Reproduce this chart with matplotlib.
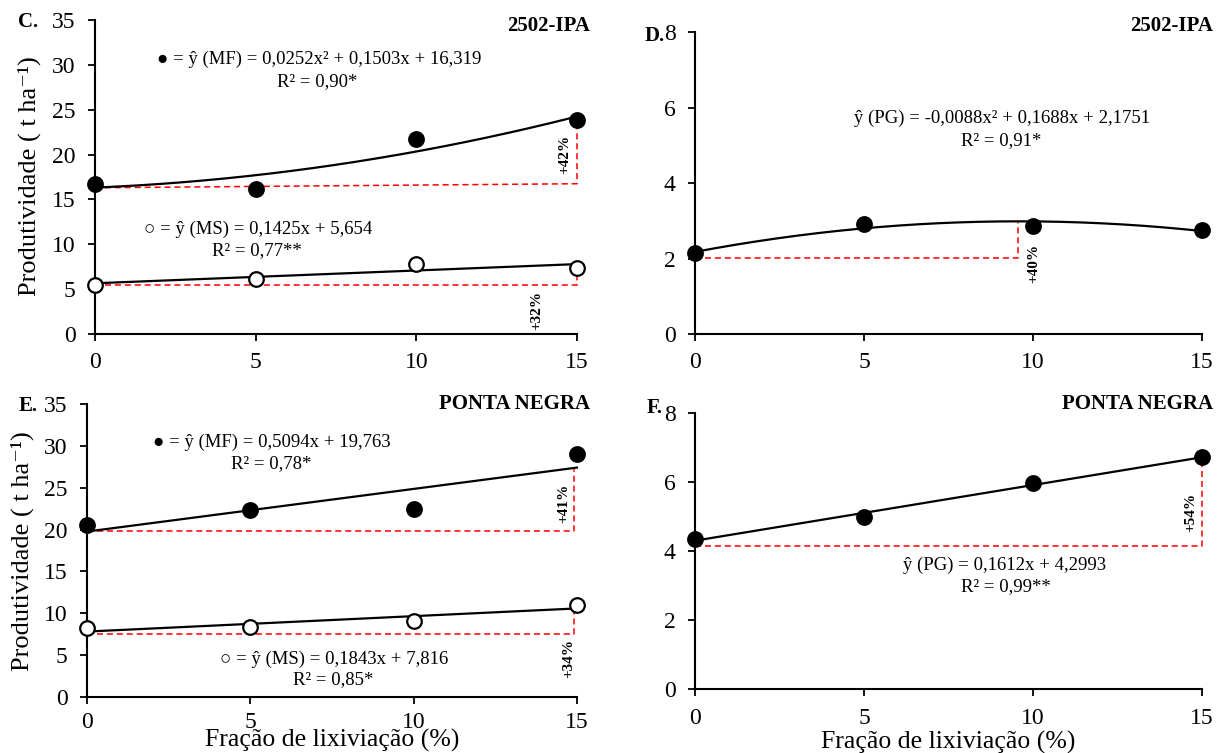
import numpy as np
import matplotlib
matplotlib.use("Agg")
import matplotlib.pyplot as plt

plt.rcParams["font.family"] = ["Liberation Serif", "DejaVu Serif"]

# leaching fraction (%)
fracao = [0, 5, 10, 15]

# C. 2502-IPA, fresh (MF) and dry (MS) mass
c_mf = [16.7, 16.2, 21.7, 23.8]
c_ms = [5.5, 6.1, 7.8, 7.35]
c_mf_coef = [0.0252, 0.1503, 16.319]
c_ms_coef = [0.1425, 5.654]

# D. 2502-IPA, PG
d_pg = [2.14, 2.92, 2.85, 2.76]
d_pg_coef = [-0.0088, 0.1688, 2.1751]

# E. Ponta Negra
e_mf = [20.5, 22.3, 22.4, 29.0]
e_ms = [8.2, 8.4, 9.1, 11.0]
e_mf_coef = [0.5094, 19.763]
e_ms_coef = [0.1843, 7.816]

# F. Ponta Negra, PG
f_pg = [4.35, 4.99, 5.98, 6.73]
f_pg_coef = [0.1612, 4.2993]

# red reference lines: (x end, base at 0, base at x end, top)
c_mf_ref = (15, 16.3, 16.75, 24.2)
c_ms_ref = (15, 5.5, 5.5, 7.4)
d_pg_ref = (9.55, 2.02, 2.02, 2.98)
e_mf_ref = (14.92, 19.8, 19.8, 27.3)
e_ms_ref = (14.92, 7.54, 7.54, 10.6)
f_pg_ref = (15, 4.15, 4.15, 6.7)

W, H = 1219, 753
fig = plt.figure(figsize=(W / 100, H / 100), dpi=100)


def px_rect(left, right, bottom, top):
    return [left / W, 1 - bottom / H, (right - left) / W, (bottom - top) / H]


def make_axes(rect, ymax, ystep, xpad):
    ax = fig.add_axes(rect)
    for s in ("top", "right"):
        ax.spines[s].set_visible(False)
    for s in ("left", "bottom"):
        ax.spines[s].set_linewidth(1.5)
    ax.set_xlim(0, 15)
    ax.set_ylim(0, ymax)
    ax.set_xticks(fracao)
    ax.set_yticks(np.arange(0, ymax + 0.1, ystep))
    ax.tick_params(direction="out", length=5, width=1.3, labelsize=17)
    ax.tick_params(axis="x", pad=xpad)
    ax.tick_params(axis="y", pad=9)
    return ax


def trend(ax, coef):
    xs = np.linspace(0, 15, 200)
    ax.plot(xs, np.polyval(coef, xs), color="black", lw=1.6, zorder=3, clip_on=False)


def points(ax, vals, filled=True):
    ax.plot(fracao, vals, "o", ms=10.5, mfc="black" if filled else "white",
            mec="black", mew=1.6, zorder=4, clip_on=False)


def ref(ax, r, label, lx, ly):
    xe, b0, b1, top = r
    ax.plot([0, xe, xe], [b0, b1, top], color="red", lw=1.1, ls=(0, (4, 2.5)),
            zorder=2, clip_on=False)
    ax.text(lx, ly, label, rotation=90, ha="center", va="center",
            fontsize=11, fontweight="bold")


def eq(ax, x, y, s, size=13.5):
    ax.text(x, y, s, ha="center", va="center", fontsize=size)


def ylabel(ax, xf, yf):
    ax.text(xf, yf, "Produtividade ( t ha\u207b\u00b9)", rotation=90,
            transform=ax.transAxes, ha="center", va="center", fontsize=19)


def xlabel(ax, yf):
    ax.text(0.5, yf, "Fração de lixiviação (%)", transform=ax.transAxes,
            ha="center", va="center", fontsize=18.5)


# ---- C
ax = make_axes(px_rect(95, 577, 334, 20), 35, 5, 8)
trend(ax, c_mf_coef)
trend(ax, c_ms_coef)
ref(ax, c_mf_ref, "+42%", 14.63, 20.0)
ref(ax, c_ms_ref, "+32%", 13.74, 2.6)
points(ax, c_mf)
points(ax, c_ms, filled=False)
eq(ax, 6.99, 30.6, "● = ŷ (MF) = 0,0252x² + 0,1503x + 16,319")
eq(ax, 6.9, 28.1, "R² = 0,90*")
eq(ax, 5.08, 11.7, "○ = ŷ (MS) = 0,1425x + 5,654")
eq(ax, 5.05, 9.3, "R² = 0,77**")
ylabel(ax, -0.136, 0.503)

# ---- D
ax = make_axes(px_rect(695, 1202, 334, 32), 8, 2, 8)
trend(ax, d_pg_coef)
ref(ax, d_pg_ref, "+40%", 10.03, 1.86)
points(ax, d_pg)
eq(ax, 9.08, 5.70, "ŷ (PG) = -0,0088x² + 0,1688x + 2,1751")
eq(ax, 9.06, 5.13, "R² = 0,91*")

# ---- E
ax = make_axes(px_rect(87, 577, 697, 404), 35, 5, 6)
trend(ax, e_mf_coef)
trend(ax, e_ms_coef)
ref(ax, e_mf_ref, "+41%", 14.6, 23.1)
ref(ax, e_ms_ref, "+34%", 14.74, 4.64)
points(ax, e_mf)
points(ax, e_ms, filled=False)
eq(ax, 5.66, 30.4, "● = ŷ (MF) = 0,5094x + 19,763")
eq(ax, 5.65, 27.9, "R² = 0,78*")
eq(ax, 7.57, 4.52, "○ = ŷ (MS) = 0,1843x + 7,816")
eq(ax, 7.53, 2.06, "R² = 0,85*")
ylabel(ax, -0.133, 0.498)
xlabel(ax, -0.150)

# ---- F
ax = make_axes(px_rect(695, 1202, 689, 413), 8, 2, 9)
trend(ax, f_pg_coef)
ref(ax, f_pg_ref, "+54%", 14.66, 5.13)
points(ax, f_pg)
eq(ax, 9.17, 3.58, "ŷ (PG) = 0,1612x + 4,2993")
eq(ax, 9.19, 2.97, "R² = 0,99**")
xlabel(ax, -0.192)

# panel letters and cultivar names
for s, x, y in [("C.", 28, 22), ("D.", 655, 36), ("E.", 28, 406), ("F.", 655, 408)]:
    fig.text(x / W, 1 - y / H, s, ha="center", va="center",
             fontsize=15, fontweight="bold")
for s, x, y in [("2502-IPA", 590, 26), ("2502-IPA", 1213, 26),
                ("PONTA NEGRA", 590, 404), ("PONTA NEGRA", 1213, 404)]:
    fig.text(x / W, 1 - y / H, s, ha="right", va="center",
             fontsize=15, fontweight="bold")

fig.savefig("out.png", dpi=100)
